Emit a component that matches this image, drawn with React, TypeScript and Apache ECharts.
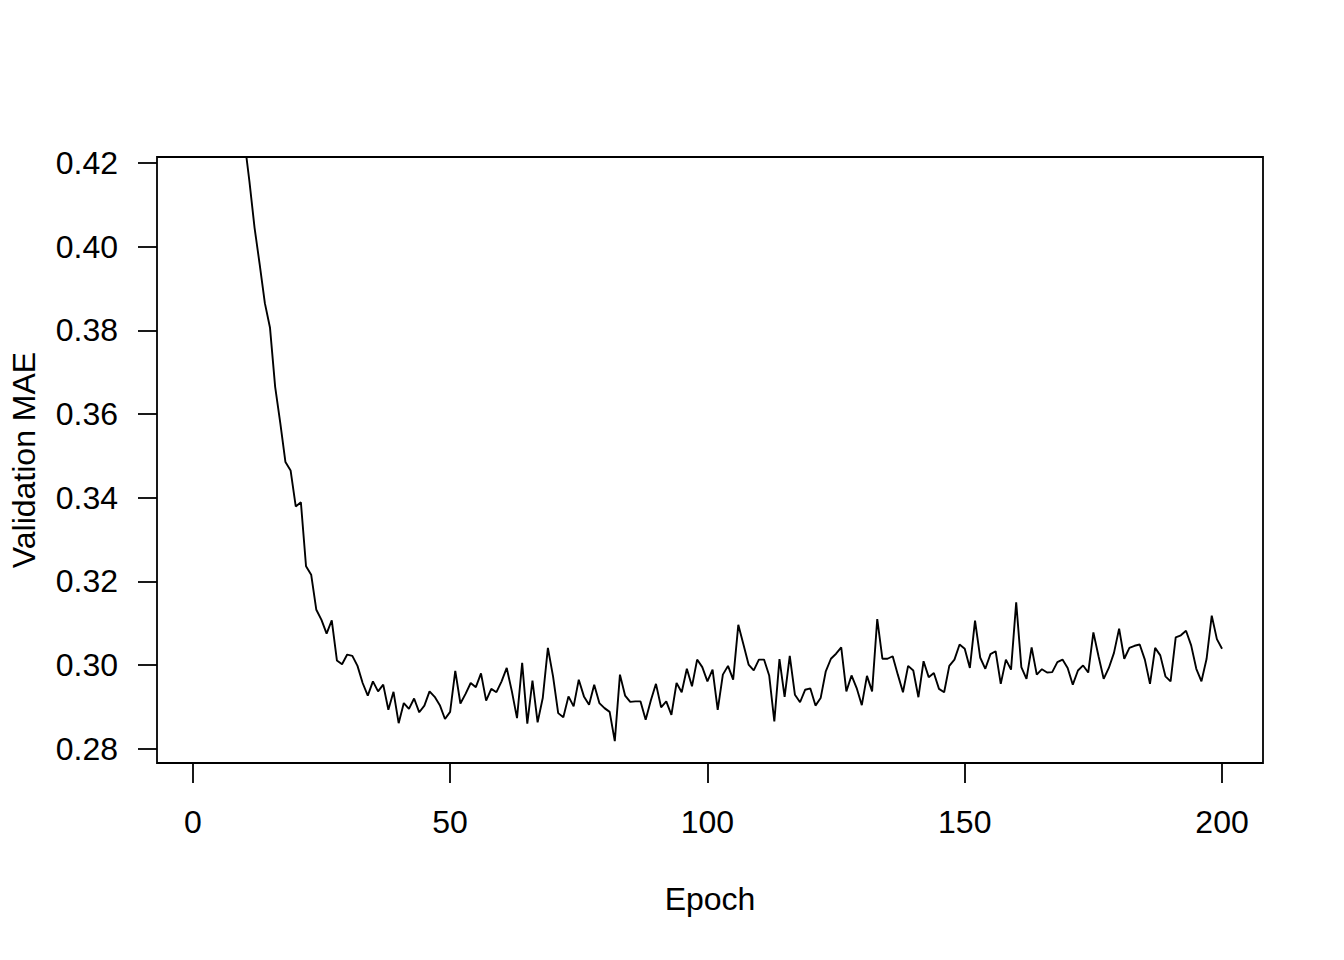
import React, { useEffect, useRef } from "react";
import * as echarts from "echarts";

const xTicks = [0, 50, 100, 150, 200];
const yTicks = [0.28, 0.3, 0.32, 0.34, 0.36, 0.38, 0.4, 0.42];
const xLabel = "Epoch";
const yLabel = "Validation MAE";

// validation MAE per epoch (epoch 1..200)
const valMae = [
  0.72, 0.6, 0.54, 0.5, 0.476, 0.46, 0.448, 0.439, 0.432, 0.4256,
  0.4156, 0.4045, 0.3957, 0.3865, 0.3806, 0.3665, 0.3578, 0.3485, 0.3465, 0.3379,
  0.3389, 0.3236, 0.3216, 0.3132, 0.3108, 0.3075, 0.3107, 0.3011, 0.3002, 0.3025,
  0.3022, 0.2998, 0.2957, 0.2927, 0.2961, 0.2937, 0.2953, 0.2893, 0.2936, 0.2861,
  0.2909, 0.2895, 0.292, 0.2887, 0.2903, 0.2937, 0.2924, 0.2904, 0.2871, 0.2888,
  0.2986, 0.2908, 0.2931, 0.2957, 0.2947, 0.298, 0.2915, 0.2943, 0.2935, 0.2961,
  0.2993, 0.2937, 0.2873, 0.3005, 0.286, 0.2963, 0.2863, 0.2921, 0.3041, 0.2973,
  0.2885, 0.2875, 0.2925, 0.2901, 0.2965, 0.2925, 0.2905, 0.2953, 0.2909, 0.2897,
  0.2888, 0.2818, 0.2977, 0.2927, 0.2912, 0.2913, 0.2913, 0.2869, 0.2915, 0.2955,
  0.2899, 0.2913, 0.2881, 0.2957, 0.2935, 0.2991, 0.2949, 0.3013, 0.2995, 0.2961,
  0.2989, 0.2893, 0.2977, 0.2998, 0.2965, 0.3096, 0.3049, 0.3001, 0.2987, 0.3013,
  0.3013, 0.2975, 0.2865, 0.3014, 0.2924, 0.3022, 0.2929, 0.2911, 0.2941, 0.2944,
  0.2903, 0.2921, 0.2985, 0.3015, 0.3027, 0.3042, 0.2937, 0.2975, 0.2945, 0.2904,
  0.2974, 0.2937, 0.311, 0.3015, 0.3015, 0.3021, 0.2977, 0.2935, 0.2998, 0.2987,
  0.2923, 0.3009, 0.2971, 0.2981, 0.2943, 0.2935, 0.2998, 0.3013, 0.3049, 0.3039,
  0.2993, 0.3106, 0.3018, 0.2991, 0.3026, 0.3033, 0.2955, 0.3013, 0.2989, 0.315,
  0.2995, 0.2967, 0.3042, 0.2977, 0.299, 0.2982, 0.2983, 0.3007, 0.3013, 0.2993,
  0.2953, 0.2987, 0.2999, 0.2982, 0.3078, 0.3021, 0.2967, 0.2993, 0.3029, 0.3087,
  0.3015, 0.3041, 0.3046, 0.3049, 0.3013, 0.2955, 0.3041, 0.3023, 0.2973, 0.2961,
  0.3066, 0.3071, 0.3082, 0.3047, 0.2991, 0.2961, 0.3015, 0.3118, 0.3062, 0.3039,
];

const FONT = "'Liberation Sans', Arial, Helvetica, sans-serif";
const FS = 32;

export default function App() {
  const ref = useRef<HTMLDivElement>(null);
  useEffect(() => {
    if (!ref.current) return;
    const chart = echarts.init(ref.current, null, { renderer: "svg" });
    const seriesData = valMae.map((v, i) => [i + 1, v]);
    chart.setOption({
      animation: false,
      backgroundColor: "#ffffff",
      grid: {
        left: 157,
        top: 157,
        width: 1106,
        height: 606,
        show: true,
        borderColor: "#000",
        borderWidth: 1.8,
        backgroundColor: "transparent",
      },
      xAxis: {
        type: "value",
        min: -6.96,
        max: 207.96,
        axisLine: { show: false, onZero: false },
        splitLine: { show: false },
        axisTick: {
          show: true,
          length: 20,
          inside: false,
          customValues: xTicks,
          lineStyle: { color: "#000", width: 1.8 },
        },
        axisLabel: {
          customValues: xTicks,
          margin: 43,
          color: "#000",
          fontSize: FS,
          fontFamily: FONT,
        },
      },
      yAxis: {
        type: "value",
        min: 0.27658,
        max: 0.42143,
        axisLine: { show: false, onZero: false },
        splitLine: { show: false },
        axisTick: {
          show: true,
          length: 19,
          inside: false,
          customValues: yTicks,
          lineStyle: { color: "#000", width: 1.8 },
        },
        axisLabel: {
          customValues: yTicks,
          margin: 39,
          color: "#000",
          fontSize: FS,
          fontFamily: FONT,
          formatter: (v: number) => v.toFixed(2),
        },
      },
      graphic: [
        {
          type: "text",
          x: 710,
          y: 899,
          style: {
            text: xLabel,
            fontSize: FS,
            fontFamily: FONT,
            fill: "#000",
            textAlign: "center",
            textVerticalAlign: "middle",
          },
        },
        {
          type: "text",
          x: 24,
          y: 460,
          rotation: Math.PI / 2,
          style: {
            text: yLabel,
            fontSize: FS,
            fontFamily: FONT,
            fill: "#000",
            textAlign: "center",
            textVerticalAlign: "middle",
          },
        },
      ],
      series: [
        {
          type: "line",
          data: seriesData,
          showSymbol: false,
          symbol: "none",
          clip: true,
          lineStyle: { color: "#000", width: 1.9 },
        },
      ],
    });
    return () => chart.dispose();
  }, []);
  return (
    <div
      ref={ref}
      style={{ position: "fixed", left: 0, top: 0, width: 1344, height: 960 }}
    />
  );
}
